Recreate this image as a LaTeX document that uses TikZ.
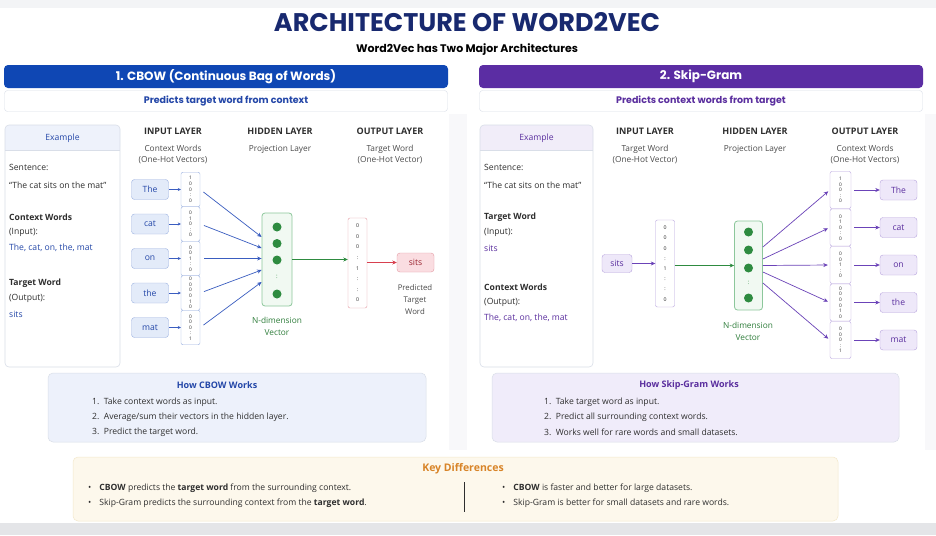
\documentclass[tikz,border=0pt]{standalone}
\usepackage{fontspec}
\setmainfont{Open Sans}
\newfontfamily\pop{Poppins}
\usetikzlibrary{arrows.meta}
\definecolor{bgc}{HTML}{F3F4F6}
\definecolor{titleblue}{HTML}{18296F}
\definecolor{cbowblue}{HTML}{0F47B4}
\definecolor{cbowtext}{HTML}{2447A8}
\definecolor{skpurple}{HTML}{5B2DA3}
\definecolor{sktext}{HTML}{5A2E9E}
\definecolor{wordfillB}{HTML}{E3EBF9}
\definecolor{wordlineB}{HTML}{9CB2E0}
\definecolor{arrowB}{HTML}{3A5DC0}
\definecolor{wordfillP}{HTML}{EEE8F9}
\definecolor{wordlineP}{HTML}{B8A4DE}
\definecolor{arrowP}{HTML}{6B43B8}
\definecolor{greenline}{HTML}{8CC79B}
\definecolor{greenfill}{HTML}{F1F9F2}
\definecolor{greendot}{HTML}{2E8B40}
\definecolor{greentext}{HTML}{2E7D3A}
\definecolor{redline}{HTML}{E49AA3}
\definecolor{redfill}{HTML}{FADDE1}
\definecolor{redarrow}{HTML}{D8404F}
\definecolor{redtext}{HTML}{9B2531}
\definecolor{hdrgray}{HTML}{2E2E2E}
\definecolor{subgray}{HTML}{4A4A4A}
\definecolor{exline}{HTML}{D9DEE8}
\definecolor{exhdrB}{HTML}{EEF2FB}
\definecolor{exhdrP}{HTML}{F1EDF9}
\definecolor{howB}{HTML}{EDF1FB}
\definecolor{howP}{HTML}{F0ECFA}
\definecolor{keyfill}{HTML}{FDF8EC}
\definecolor{keyline}{HTML}{F3E8CC}
\definecolor{keyorange}{HTML}{D88428}
\definecolor{bandgray}{HTML}{E4E5E8}
\begin{document}
\begin{tikzpicture}[x=1pt,y=-1pt,
  >={Stealth[length=4.5pt,width=4pt]},
  body/.style={font=\fontsize{8.6}{10}\selectfont, inner sep=0pt, text=hdrgray},
  bodyb/.style={font=\bfseries\fontsize{8.6}{10}\selectfont},
  txtL/.style={body, anchor=west},
  colhdr/.style={font=\bfseries\fontsize{9}{10}\selectfont, text=hdrgray, inner sep=0pt},
  colsub/.style={font=\fontsize{8.3}{11}\selectfont, text=subgray, align=center, inner sep=0pt},
  hdrbar/.style={rounded corners=4pt, minimum width=444pt, minimum height=23pt, text=white, font=\pop\bfseries\fontsize{12}{14}\selectfont, inner sep=0pt},
  subbar/.style={rounded corners=3pt, draw=exline, fill=white, minimum width=443pt, minimum height=21pt, font=\pop\bfseries\fontsize{9.5}{11}\selectfont, inner sep=0pt},
  wordB/.style={draw=wordlineB, fill=wordfillB, rounded corners=3pt, minimum width=37pt, minimum height=20pt, body, text=cbowtext},
  wordP/.style={draw=wordlineP, fill=wordfillP, rounded corners=3pt, minimum width=37pt, minimum height=20pt, body, text=sktext},
  vecB/.style={draw=wordlineB, fill=white, rounded corners=2pt, minimum width=19pt, minimum height=34pt, inner sep=0pt, align=center, font=\fontsize{4.8}{5.6}\selectfont, text=hdrgray},
  vecP/.style={vecB, draw=wordlineP},
  hidbox/.style={draw=greenline, fill=greenfill, rounded corners=3pt, line width=0.8pt},
  hdot/.style={fill=greendot},
  small/.style={font=\fontsize{8.3}{12}\selectfont, align=center, inner sep=0pt},
  conB/.style={->, draw=arrowB, line width=0.7pt},
  conP/.style={->, draw=arrowP, line width=0.7pt},
  conG/.style={->, draw=greendot, line width=0.7pt},
  conR/.style={->, draw=redarrow, line width=0.7pt},
  exbox/.style={draw=exline, rounded corners=4pt, line width=0.6pt},
  howtitle/.style={font=\bfseries\fontsize{9}{10}\selectfont, inner sep=0pt},
  keytxt/.style={txtL}
]
\useasboundingbox (0,0) rectangle (936,535);
% background
\fill[bgc] (0,0) rectangle (936,535);
\fill[white] (0,8) rectangle (936,523);
\fill[bandgray] (0,523) rectangle (936,535);
\fill[bgc!60!white] (449,114) rectangle (467,450);
\fill[bgc!60!white] (925,114) rectangle (936,450);

% title
\node[font=\pop\bfseries\fontsize{25.5}{28}\selectfont, text=titleblue, inner sep=0pt] (title) at (467,22) {ARCHITECTURE OF WORD2VEC};
\node[font=\pop\bfseries\fontsize{11}{13}\selectfont, inner sep=0pt] (subtitle) at (467,50) {Word2Vec has Two Major Architectures};

% header bars
\node[hdrbar, fill=cbowblue] (h1) at (226,76.5) {1. CBOW (Continuous Bag of Words)};
\node[subbar, text=cbowtext] (s1) at (226,101) {Predicts target word from context};
\node[hdrbar, fill=skpurple] (h2) at (701,76.5) {2. Skip-Gram};
\node[subbar, text=sktext] (s2) at (701,101) {Predicts context words from target};

% ================= CBOW =================
\fill[white, rounded corners=4pt] (5,125) rectangle (120,367);
\fill[exhdrB, rounded corners=4pt] (5,125) rectangle (120,150);
\fill[exhdrB] (5,140) rectangle (120,150);
\draw[exline, line width=0.6pt] (5,150) -- (120,150);
\draw[exbox] (5,125) rectangle (120,367);
\node[body, text=cbowtext] (exLt) at (62.5,138) {Example};
\node[txtL] (exL1) at (9,167) {Sentence:};
\node[txtL] (exL2) at (9,185) {“The cat sits on the mat”};
\node[txtL, bodyb] (exL3) at (9,217) {Context Words};
\node[txtL] (exL4) at (9,232) {(Input):};
\node[txtL, text=cbowtext] (exL5) at (9,248) {The, cat, on, the, mat};
\node[txtL, bodyb] (exL6) at (9,283) {Target Word};
\node[txtL] (exL7) at (9,298) {(Output):};
\node[txtL, text=cbowtext] (exL8) at (9,314) {sits};

\node[colhdr] (inL) at (173,131) {INPUT LAYER};
\node[colsub] (inLs) at (173,154.5) {Context Words\\(One-Hot Vectors)};
\node[colhdr] (hdL) at (280,131) {HIDDEN LAYER};
\node[colsub] (hdLs) at (280,149) {Projection Layer};
\node[colhdr] (ouL) at (390,131) {OUTPUT LAYER};
\node[colsub] (ouLs) at (390,154.5) {Target Word\\(One-Hot Vector)};

\node[hidbox, minimum width=30pt, minimum height=93pt] (hidL) at (277,259.5) {};
\foreach \yy in {227,243.5,260,294} \fill[hdot] (277,\yy) circle (4.5pt);
\node[font=\fontsize{6}{7}\selectfont, text=greendot, inner sep=0pt] (hidLdots) at (277,277) {:};
\node[small, text=greentext] (nvL) at (277,326) {N-dimension\\Vector};

\foreach \i/\w/\yy/\c in {1/The/189.5/{1\\0\\0\\:\\0},2/cat/224/{0\\1\\0\\:\\0},3/on/258.5/{0\\0\\1\\:\\0},4/the/293/{0\\0\\0\\0\\1\\0},5/mat/327.5/{0\\0\\0\\:\\1}}{
  \node[wordB] (wL\i) at (150,\yy) {\w};
  \node[vecB, minimum height=34.5pt] (vL\i) at (190.5,\yy) {\c};
  \draw[conB, line width=0.6pt, {Stealth[length=3pt,width=3pt]}-] (vL\i.west) -- (wL\i.east);
}
\draw[conB, shorten <=4pt] (vL1.east) -- ([yshift=22.5pt]hidL.west);
\draw[conB, shorten <=4pt] (vL2.east) -- ([yshift=11.5pt]hidL.west);
\draw[conB, shorten <=4pt] (vL3.east) -- ([yshift=1pt]hidL.west);
\draw[conB, shorten <=4pt] (vL4.east) -- ([yshift=-10.5pt]hidL.west);
\draw[conB, shorten <=4pt] (vL5.east) -- ([yshift=-22.5pt]hidL.west);

\node[vecB, draw=redline, minimum height=90pt, font=\fontsize{5.2}{10.6}\selectfont] (outL) at (357.5,263) {0\\0\\0\\:\\1\\:\\:\\0};
\draw[conG] (hidL.east) -- (hidL.east -| outL.west);
\node[draw=redline, fill=redfill, rounded corners=3pt, minimum width=37pt, minimum height=19pt, body, text=redtext] (sitsL) at (415.5,262.5) {sits};
\draw[conR] (outL.east |- sitsL.west) -- (sitsL.west);
\node[small, font=\fontsize{7.8}{12}\selectfont, text=subgray] (predL) at (415,300) {Predicted\\Target\\Word};

% ================= Skip-Gram =================
\fill[white, rounded corners=4pt] (480,125) rectangle (593,367);
\fill[exhdrP, rounded corners=4pt] (480,125) rectangle (593,150);
\fill[exhdrP] (480,140) rectangle (593,150);
\draw[exline, line width=0.6pt] (480,150) -- (593,150);
\draw[exbox] (480,125) rectangle (593,367);
\node[body, text=sktext] (exRt) at (536.5,138) {Example};
\node[txtL] (exR1) at (484,167) {Sentence:};
\node[txtL] (exR2) at (484,185) {“The cat sits on the mat”};
\node[txtL, bodyb] (exR3) at (484,217) {Target Word};
\node[txtL] (exR4) at (484,232) {(Input):};
\node[txtL, text=sktext] (exR5) at (484,248) {sits};
\node[txtL, bodyb] (exR6) at (484,287) {Context Words};
\node[txtL] (exR7) at (484,302) {(Output):};
\node[txtL, text=sktext] (exR8) at (484,318) {The, cat, on, the, mat};

\node[colhdr] (inR) at (645,131) {INPUT LAYER};
\node[colsub] (inRs) at (645,154.5) {Target Word\\(One-Hot Vector)};
\node[colhdr] (hdR) at (755,131) {HIDDEN LAYER};
\node[colsub] (hdRs) at (755,149) {Projection Layer};
\node[colhdr] (ouR) at (865,131) {OUTPUT LAYER};
\node[colsub] (ouRs) at (865,154.5) {Context Words\\(One-Hot Vectors)};

\node[wordP, minimum width=30pt, minimum height=18pt] (sitsR) at (617,263.5) {sits};
\node[vecP, minimum height=87pt, font=\fontsize{5.2}{10.2}\selectfont] (inVR) at (665,263.5) {0\\0\\0\\:\\1\\:\\:\\0};
\draw[conP, line width=0.6pt] (sitsR.east) -- (inVR.west);

\node[hidbox, minimum width=28pt, minimum height=89pt] (hidR) at (748.5,265.5) {};
\foreach \yy in {232,250,268,298} \fill[hdot] (748.5,\yy) circle (4.5pt);
\node[font=\fontsize{6}{7}\selectfont, text=greendot, inner sep=0pt] (hidRdots) at (748.5,283) {:};
\node[small, text=greentext] (nvR) at (748,331) {N-dimension\\Vector};
\draw[conG] (inVR.east |- hidR.west) -- (hidR.west);

\foreach \i/\w/\yy/\c in {1/The/190/{1\\0\\0\\:\\0},2/cat/227.5/{0\\1\\0\\:\\0},3/on/265/{0\\0\\1\\:\\0},4/the/302.5/{0\\0\\0\\0\\1\\0},5/mat/340/{0\\0\\0\\:\\1}}{
  \node[vecP, minimum height=37pt, minimum width=21pt] (vR\i) at (840.5,\yy) {\c};
  \node[wordP] (wR\i) at (898.5,\yy) {\w};
  \draw[conP, line width=0.6pt, shorten <=3pt] (vR\i.east) -- (wR\i.west);
}
\draw[conP, shorten >=2pt] ([yshift=18.5pt]hidR.east) -- (vR1.west);
\draw[conP, shorten >=2pt] ([yshift=6.5pt]hidR.east) -- (vR2.west);
\draw[conP, shorten >=2pt] ([yshift=0pt]hidR.east) -- (vR3.west);
\draw[conP, shorten >=2pt] ([yshift=-6.5pt]hidR.east) -- (vR4.west);
\draw[conP, shorten >=2pt] ([yshift=-17.5pt]hidR.east) -- (vR5.west);

% ================= How boxes =================
\draw[fill=howB, draw=exline, rounded corners=5pt, line width=0.5pt] (48,373) rectangle (426,442);
\node[howtitle, text=cbowtext] (howLt) at (217,385) {How CBOW Works};
\node[txtL] (howL1) at (92,402) {1.\ \ Take context words as input.};
\node[txtL] (howL2) at (92,417) {2.\ \ Average/sum their vectors in the hidden layer.};
\node[txtL] (howL3) at (92,432) {3.\ \ Predict the target word.};

\draw[fill=howP, draw=exline, rounded corners=5pt, line width=0.5pt] (492,373) rectangle (899,442);
\node[howtitle, text=sktext] (howRt) at (689,385) {How Skip-Gram Works};
\node[txtL] (howR1) at (544,402) {1.\ \ Take target word as input.};
\node[txtL] (howR2) at (544,417) {2.\ \ Predict all surrounding context words.};
\node[txtL] (howR3) at (544,432) {3.\ \ Works well for rare words and small datasets.};

% ================= Key differences =================
\draw[fill=keyfill, draw=keyline, rounded corners=5pt, line width=0.5pt] (73,457) rectangle (838,521);
\node[font=\bfseries\fontsize{10.5}{12}\selectfont, text=keyorange, inner sep=0pt] (keyt) at (463,469) {Key Differences};
\draw[hdrgray, line width=0.8pt] (464,482) -- (464,512);
\node[keytxt] (k1) at (88,488) {•\hspace{8pt}\textbf{CBOW} predicts the \textbf{target word} from the surrounding context.};
\node[keytxt] (k2) at (88,503) {•\hspace{8pt}Skip-Gram predicts the surrounding context from the \textbf{target word}.};
\node[keytxt] (k3) at (502,488) {•\hspace{8pt}\textbf{CBOW} is faster and better for large datasets.};
\node[keytxt] (k4) at (502,503) {•\hspace{8pt}Skip-Gram is better for small datasets and rare words.};
\end{tikzpicture}
\end{document}
